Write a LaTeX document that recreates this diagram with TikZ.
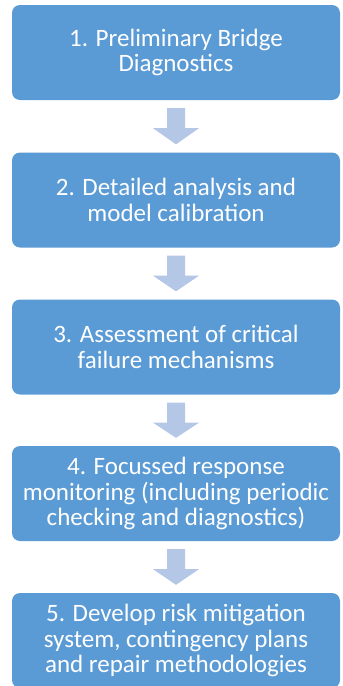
\documentclass[tikz,border=0pt]{standalone}
\usepackage{fontspec}
\setmainfont{Carlito}
\usetikzlibrary{calc}
\definecolor{stepblue}{RGB}{91,155,213}
\definecolor{arrowblue}{RGB}{180,199,231}
\begin{document}
\begin{tikzpicture}[x=1pt,y=-1pt,
  stepbox/.style={rectangle, rounded corners=8pt, fill=stepblue, draw=none,
    minimum width=328pt, minimum height=95pt, align=center, text=white,
    font=\fontsize{25}{25.5}\selectfont, inner sep=0pt},
  flowarrow/.style={fill=arrowblue, draw=none}]
\useasboundingbox (0,0) rectangle (343,686);
\node[stepbox] (s1) at (176,52.5) {1. Preliminary Bridge\\Diagnostics};
\node[stepbox] (s2) at (176,200) {2. Detailed analysis and\\model calibration};
\node[stepbox] (s3) at (176,347) {3. Assessment of critical\\failure mechanisms};
\node[stepbox] (s4) at (176,493.5) {4. Focussed response\\monitoring (including periodic\\checking and diagnostics)};
\node[stepbox] (s5) at (176,640.5) {5. Develop risk mitigation\\system, contingency plans\\and repair methodologies};
% block arrows between consecutive steps
\foreach \a/\b in {s1/s2,s2/s3,s3/s4,s4/s5}{
  \fill[flowarrow]
    ($(\a.south)+(-9,8)$) -- ($(\a.south)+(9,8)$) -- ($(\a.south)+(9,28)$)
    -- ($(\a.south)+(23,28)$) -- ($(\b.north)+(0,-8)$) -- ($(\a.south)+(-23,28)$)
    -- ($(\a.south)+(-9,28)$) -- cycle;
}
\end{tikzpicture}
\end{document}
